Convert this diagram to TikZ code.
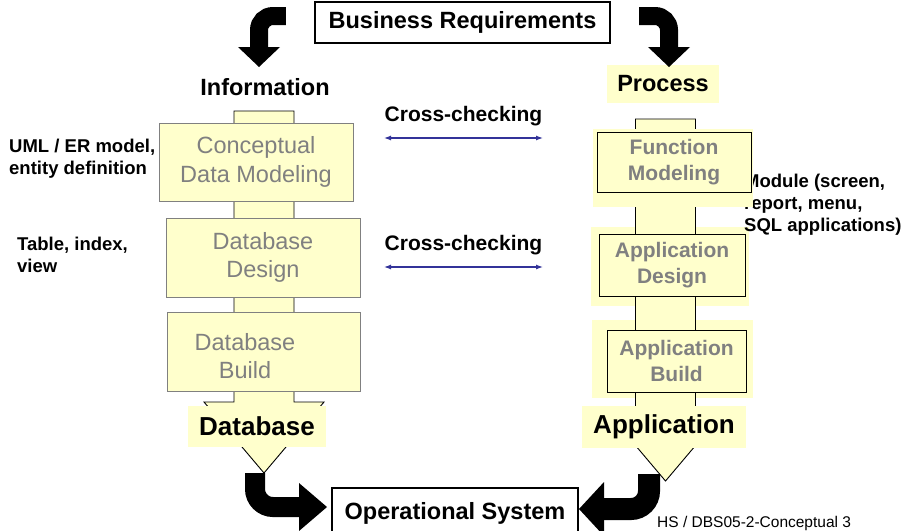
\documentclass[tikz,border=0pt]{standalone}
\usepackage{fontspec}
\setmainfont{Liberation Sans}
\usepackage{tikz}
\usetikzlibrary{arrows.meta}
\usetikzlibrary{positioning}
\usetikzlibrary{calc}

\definecolor{paleyellow}{HTML}{FFFFCC}
\definecolor{stagegray}{HTML}{808080}
\definecolor{checkblue}{HTML}{333399}

\tikzstyle{stagebox} = [draw = stagegray, fill = paleyellow, text = stagegray, align = center, inner sep = 0pt, font = \fontsize{23.5}{28.5}\selectfont]
\tikzstyle{stagetext} = [text = stagegray, align = center, inner sep = 0pt, font = \fontsize{23.5}{28.5}\selectfont]
\tikzstyle{taskbox} = [draw, fill = paleyellow, text = stagegray, align = center, inner sep = 0pt, font = \bfseries\fontsize{21}{25.5}\selectfont]
\tikzstyle{headtext} = [inner sep = 0pt, font = \bfseries\fontsize{23.5}{28}\selectfont]
\tikzstyle{productlabel} = [fill = paleyellow, inner sep = 0pt, font = \bfseries\fontsize{26}{30}\selectfont]
\tikzstyle{titlebox} = [draw, line width = 2.4pt, inner sep = 0pt, font = \bfseries\fontsize{23.5}{28}\selectfont]
\tikzstyle{notetext} = [align = left, inner sep = 0pt, font = \bfseries\fontsize{18.5}{22}\selectfont]
\tikzstyle{xcheck} = [checkblue, line width = 1.2pt, {Latex[length = 7pt, width = 5pt]}-{Latex[length = 7pt, width = 5pt]}]
\tikzstyle{xchecklabel} = [text = black, inner sep = 0pt, font = \bfseries\fontsize{21}{25}\selectfont]
\tikzstyle{blackarrow} = [line width = 18pt, rounded corners = 14pt]
\tikzstyle{spinearrow} = [draw, line width = 0.9pt, fill = paleyellow]

% stem with a block arrow head: centre x, top, shoulders, tip
\newcommand{\flowspine}[4]{
	\draw[spinearrow] (#1-30,#2) -- (#1+30,#2) -- (#1+30,#3) -- (#1+60,#3) -- (#1,#4)
	-- (#1-60,#3) -- (#1-30,#3) -- cycle;
}

\begin{document}
\begin{tikzpicture}[x = 1pt, y = -1pt]
	\useasboundingbox (0,0) rectangle (904,530);
	
	% Requirements on top
	\node[titlebox, minimum width = 295pt, minimum height = 41pt] (busreq) at (462.5,22.5) {Business Requirements};
	\node[headtext] (info) at (265,87) {Information};
	\node[headtext, fill = paleyellow, minimum width = 112pt, minimum height = 38pt] (process) at (663,84) {Process};
	\coordinate[left = 28pt of busreq.west, yshift = 6.5pt] (infostart);
	\coordinate (infoend) at (259,67);
	\coordinate[right = 28pt of busreq.east, yshift = 6.5pt] (procstart);
	\coordinate (procend) at (669,67);
	\draw[blackarrow, -{Triangle[length = 20pt, width = 42pt, line width = 0pt]}] (infostart) -| (infoend);
	\draw[blackarrow, -{Triangle[length = 20pt, width = 42pt, line width = 0pt]}] (procstart) -| (procend);
	
	% Information side
	\flowspine{264}{111}{402}{473}
	\node[stagebox, minimum width = 194pt, minimum height = 78pt] (concept) at (256,162) {Conceptual\\Data Modeling};
	\node[stagebox, minimum width = 194pt, minimum height = 79pt] (dbdesign) at (263,257.5) {Database\\Design};
	\node[stagebox, minimum width = 193pt, minimum height = 79pt,
		label = {[stagetext, xshift = -18.5pt, yshift = -4.5pt]center:Database\\Build}] (dbbuild) at (263.5,351.5) {};
	\node[productlabel, minimum width = 138pt, minimum height = 41pt] (database) at (257,426.5) {Database};
	
	\node[notetext, anchor = west] (umlnote) at (9,159) {UML / ER model,\\entity definition};
	\node[notetext, anchor = west] (tablenote) at (17,254.5) {Table, index,\\view};
	
	% Process side
	\fill[paleyellow] (591,227) rectangle (749,306);
	\fill[paleyellow] (592,320) rectangle (753,398);
	\flowspine{665.5}{119}{410}{481}
	\node[notetext, anchor = west] (modnote) at (744,205) {Module (screen,\\report, menu,\\SQL applications)};
	\fill[paleyellow] (593,129) rectangle (753,207);
	\node[taskbox, minimum width = 154pt, minimum height = 60pt] (funcmod) at (674,162) {Function\\Modeling};
	\node[taskbox, minimum width = 146pt, minimum height = 62pt] (appdesign) at (672,265) {Application\\Design};
	\node[taskbox, minimum width = 139pt, minimum height = 62pt] (appbuild) at (676.5,361) {Application\\Build};
	\node[productlabel, minimum width = 164pt, minimum height = 42pt] (application) at (664,427) {Application};
	
	% Cross-checking between both sides
	\coordinate (xleftA) at (384,138);
	\coordinate (xrightA) at (543,138);
	\coordinate (xleftB) at (384,267);
	\coordinate (xrightB) at (543,267);
	\draw[xcheck] (xleftA) -- node[above = 11pt, xchecklabel] (xcheckA) {Cross-checking} (xrightA);
	\draw[xcheck] (xleftB) -- node[above = 11pt, xchecklabel] (xcheckB) {Cross-checking} (xrightB);
	
	% Both results end in the running system
	\node[titlebox, line width = 2pt, minimum width = 246pt, minimum height = 50pt] (opsys) at (455,513) {Operational System};
	\draw[blackarrow, line width = 20pt, rounded corners = 18pt, -{Triangle[length = 28pt, width = 48pt, line width = 0pt]}]
		($(database.south)+(-2,26)$) |- ($(opsys.west)+(-4,-6)$);
	\draw[blackarrow, line width = 22pt, rounded corners = 18pt, -{Triangle[length = 25pt, width = 54pt, line width = 0pt]}]
		($(application.south)+(-15,26)$) |- ($(opsys.east)+(0,-4)$);
	
	\node[anchor = west, inner sep = 0pt, font = \fontsize{15.5}{18}\selectfont] (footer) at (657,523) {HS / DBS05-2-Conceptual 3};
	
\end{tikzpicture}
\end{document}
